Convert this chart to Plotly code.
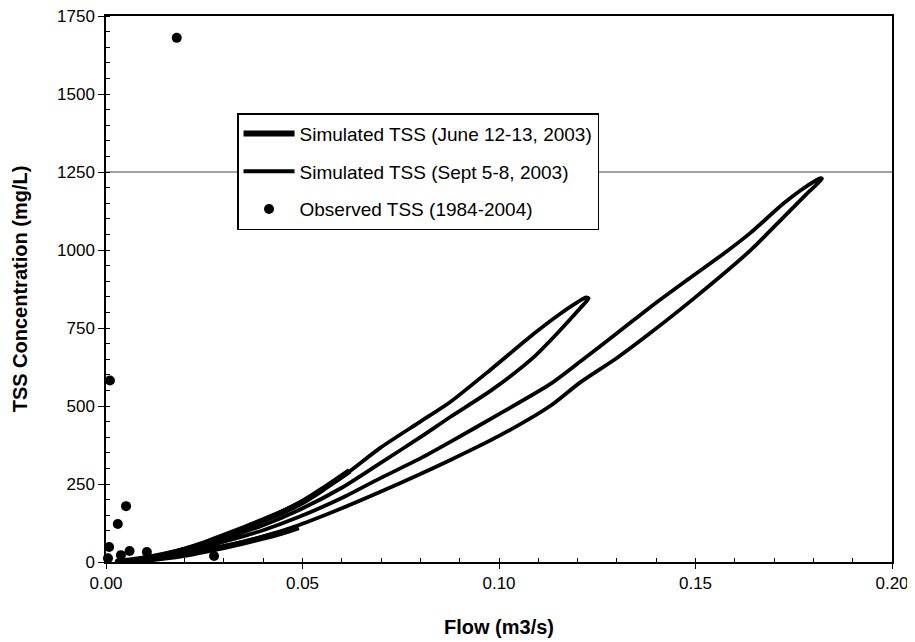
import plotly.graph_objects as go

# ---------------- data ----------------
june_flow = [0.049, 0.045, 0.040, 0.035, 0.030, 0.025, 0.020, 0.015, 0.010, 0.006, 0.003,
             0.006, 0.010, 0.015, 0.020, 0.025, 0.030, 0.035, 0.040, 0.045, 0.050, 0.055, 0.062]
june_tss = [112, 95, 78, 62, 48, 35, 23, 14, 7, 3, 2,
            5, 12, 24, 40, 60, 84, 108, 134, 160, 192, 232, 292]

sept_flow = [0.003, 0.010, 0.020, 0.030, 0.040, 0.049, 0.060, 0.0697, 0.080, 0.0875, 0.098, 0.1087,
             0.1155, 0.1200, 0.1222, 0.1228, 0.1215, 0.1190, 0.1155, 0.1087, 0.098, 0.0875, 0.080,
             0.0697, 0.060, 0.049, 0.040, 0.030, 0.020, 0.010, 0.004,
             0.010, 0.020, 0.030, 0.040, 0.049, 0.060, 0.0697, 0.080, 0.0875, 0.100, 0.113,
             0.1206, 0.130, 0.1384, 0.148, 0.158, 0.1639, 0.1723, 0.1766, 0.1805, 0.1818, 0.1822,
             0.1783, 0.1723, 0.1639, 0.150, 0.1384, 0.130, 0.1206, 0.113, 0.100, 0.0875, 0.080,
             0.0697, 0.060, 0.049, 0.040, 0.030, 0.020, 0.010, 0.004]
sept_tss = [2, 12, 42, 85, 135, 189, 272, 365, 450, 512, 618, 730,
            795, 833, 848, 845, 825, 790, 742, 655, 550, 464, 400,
            316, 238, 166, 118, 75, 36, 10, 3,
            8, 30, 65, 102, 144, 205, 268, 332, 384, 474, 570,
            642, 733, 816, 905, 996, 1054, 1148, 1190, 1222, 1230, 1228,
            1180, 1104, 998, 849, 733, 654, 575, 500, 404, 326, 282,
            224, 172, 118, 82, 50, 24, 7, 2]

obs_flow = [0.0005, 0.0008, 0.001, 0.003, 0.0038, 0.0051, 0.006, 0.0104, 0.018, 0.0275]
obs_tss = [12, 48, 582, 122, 22, 179, 35, 32, 1680, 19]

x_ticks = [0.00, 0.05, 0.10, 0.15, 0.20]
x_tick_labels = ["0.00", "0.05", "0.10", "0.15", "0.20"]
y_ticks = [0, 250, 500, 750, 1000, 1250, 1500, 1750]
grid_level = 1250

names = ["Simulated TSS (June 12-13, 2003)",
         "Simulated TSS (Sept 5-8, 2003)",
         "Observed TSS (1984-2004)"]

# ---------------- figure ----------------
FONT = "Liberation Sans, Arial, sans-serif"
fig = go.Figure()

fig.add_trace(go.Scatter(x=june_flow, y=june_tss, mode="lines", name=names[0],
                         legendgroup="a",
                         line=dict(color="black", width=6, shape="spline", smoothing=0.6)))
fig.add_trace(go.Scatter(x=sept_flow, y=sept_tss, mode="lines", name=names[1],
                         legendgroup="b",
                         line=dict(color="black", width=3.8, shape="spline", smoothing=0.7)))
fig.add_trace(go.Scatter(x=obs_flow, y=obs_tss, mode="markers", name=names[2],
                         legendgroup="c", cliponaxis=False,
                         marker=dict(color="black", size=10)))

fig.add_shape(type="line", xref="x", yref="y", x0=x_ticks[0], x1=x_ticks[-1],
              y0=grid_level, y1=grid_level, line=dict(color="#444", width=1), layer="below")

# page body adds an 8px offset, so the figure is sized/margined to compensate
fig.update_layout(
    width=907, height=634,
    margin=dict(l=98, r=23, t=8, b=80),
    paper_bgcolor="white", plot_bgcolor="white",
    font=dict(family=FONT, color="black", size=17),
    showlegend=True,
    legend=dict(x=0.1667, y=0.822, xanchor="left", yanchor="top",
                bgcolor="white", bordercolor="black", borderwidth=1.5,
                font=dict(size=19, family=FONT), traceorder="grouped",
                tracegroupgap=10, itemwidth=51,
                entrywidth=315, entrywidthmode="pixels"),
)

fig.update_xaxes(
    range=[0, 0.2], tickvals=x_ticks, ticktext=x_tick_labels,
    showgrid=False, zeroline=False, automargin=False, ticklabeloverflow="allow",
    showline=True, linecolor="black", linewidth=1.5, mirror=True,
    ticks="outside", ticklen=5, tickcolor="black",
    minor=dict(dtick=0.01, ticks="inside", ticklen=4, tickcolor="black", showgrid=False),
    tickfont=dict(size=17),
    title=dict(text="<b>Flow (m3/s)</b>", font=dict(size=20), standoff=28),
)
fig.update_yaxes(
    range=[0, 1750], tickvals=y_ticks,
    showgrid=False, zeroline=False, automargin=False, ticklabeloverflow="allow",
    showline=True, linecolor="black", linewidth=1.5, mirror=True,
    ticks="outside", ticklen=6, tickcolor="black",
    minor=dict(dtick=50, ticks="inside", ticklen=4, tickcolor="black", showgrid=False),
    tickfont=dict(size=17),
    title=dict(text="<b>TSS Concentration (mg/L)</b>", font=dict(size=20), standoff=24),
)

fig.write_html("out.html")
